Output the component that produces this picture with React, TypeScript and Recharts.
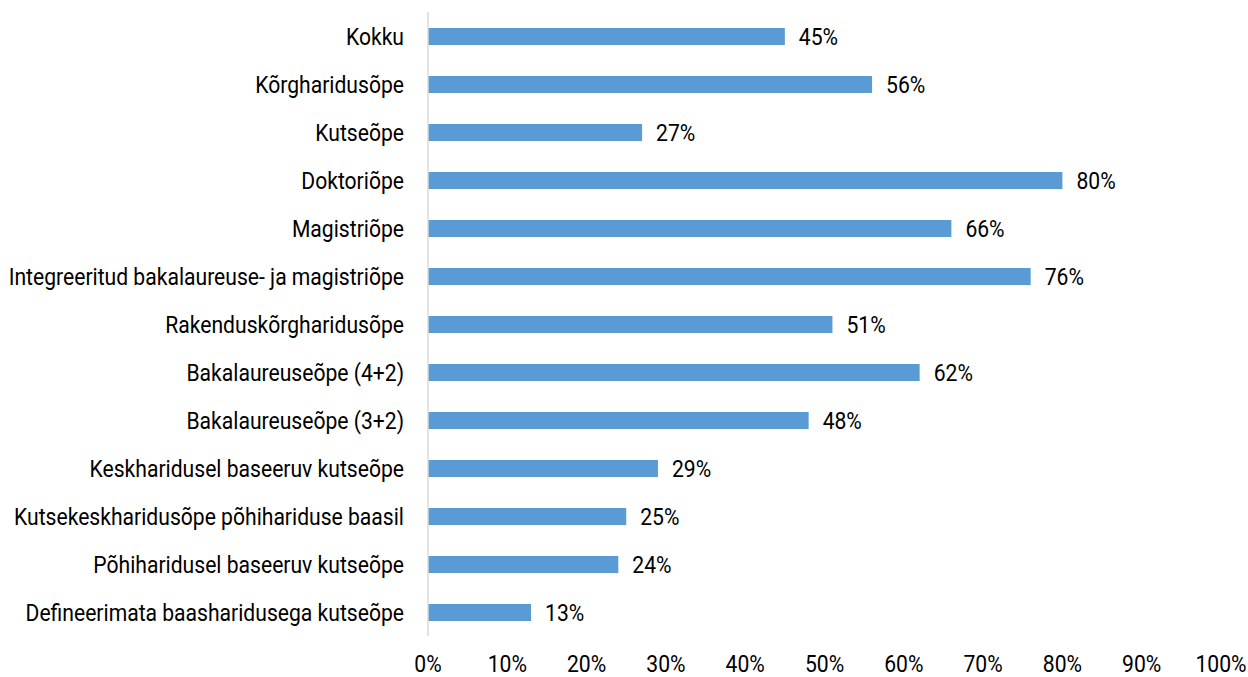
import { BarChart, Bar, XAxis, YAxis, LabelList } from 'recharts';

const categories = [
  'Kokku',
  'Kõrgharidusõpe',
  'Kutseõpe',
  'Doktoriõpe',
  'Magistriõpe',
  'Integreeritud bakalaureuse- ja magistriõpe',
  'Rakenduskõrgharidusõpe',
  'Bakalaureuseõpe (4+2)',
  'Bakalaureuseõpe (3+2)',
  'Keskharidusel baseeruv kutseõpe',
  'Kutsekeskharidusõpe põhihariduse baasil',
  'Põhiharidusel baseeruv kutseõpe',
  'Defineerimata baasharidusega kutseõpe',
];

const shares = [45, 56, 27, 80, 66, 76, 51, 62, 48, 29, 25, 24, 13];

const xTicks = [0, 10, 20, 30, 40, 50, 60, 70, 80, 90, 100];

const data = categories.map((name, i) => ({ name, value: shares[i] }));

const FONT = 'Roboto, "Noto Sans", sans-serif';
const SQUEEZE = 0.88; // stand-in for a condensed face

const YTick = ({ x, y, payload }: any) => (
  <g transform={`translate(${x},${y}) scale(${SQUEEZE},1)`}>
    <text x={0} y={0} dy="0.355em" textAnchor="end" fontFamily={FONT} fontSize={24} fill="#000">
      {payload.value}
    </text>
  </g>
);

const XTick = ({ x, y, payload }: any) => (
  <g transform={`translate(${x},${y}) scale(${SQUEEZE},1)`}>
    <text x={0} y={0} dy="0.71em" textAnchor="middle" fontFamily={FONT} fontSize={24} fill="#000">
      {`${payload.value}%`}
    </text>
  </g>
);

const ValueLabel = ({ x, y, width, height, value }: any) => (
  <g transform={`translate(${x + width + 14},${y + height / 2}) scale(${SQUEEZE},1)`}>
    <text x={0} y={0} dy="0.355em" textAnchor="start" fontFamily={FONT} fontSize={24} fill="#000">
      {`${value}%`}
    </text>
  </g>
);

export default function App() {
  return (
    <div style={{ position: 'absolute', left: 0, top: 0, width: 1248, height: 677, background: '#fff' }}>
      <BarChart
        width={1248}
        height={677}
        data={data}
        layout="vertical"
        margin={{ top: 12, right: 27, left: 0, bottom: 0 }}
      >
        <XAxis
          type="number"
          domain={[0, 100]}
          ticks={xTicks}
          interval={0}
          axisLine={false}
          tickLine={false}
          tickMargin={13}
          height={41}
          tick={<XTick />}
        />
        <YAxis
          type="category"
          dataKey="name"
          width={428}
          interval={0}
          axisLine={{ stroke: '#d9d9d9', strokeWidth: 1.5 }}
          tickLine={false}
          tickMargin={18}
          tick={<YTick />}
        />
        <Bar dataKey="value" fill="#5b9bd5" barSize={17} isAnimationActive={false}>
          <LabelList dataKey="value" content={<ValueLabel />} />
        </Bar>
      </BarChart>
    </div>
  );
}
